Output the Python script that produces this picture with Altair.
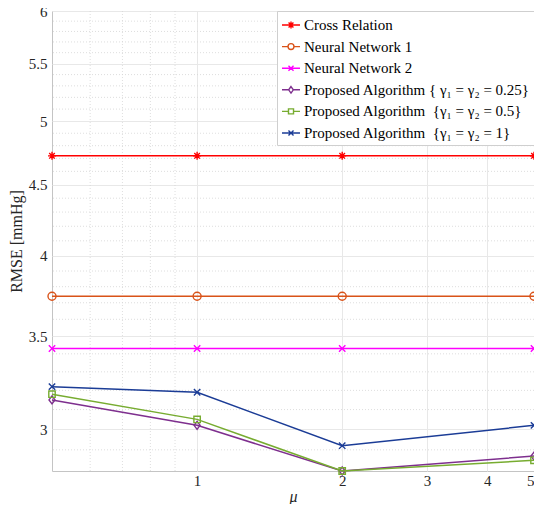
import altair as alt
import pandas as pd

mu = [0.5, 1, 2, 5]
series = [
    "Cross Relation",
    "Neural Network 1",
    "Neural Network 2",
    "Proposed Algorithm { γ₁ = γ₂ = 0.25}",
    "Proposed Algorithm \u00a0{γ₁ = γ₂ = 0.5}",
    "Proposed Algorithm \u00a0{γ₁ = γ₂ = 1}",
]
cross_relation = [4.72, 4.72, 4.72, 4.72]
neural_net_1 = [3.74, 3.74, 3.74, 3.74]
neural_net_2 = [3.43, 3.43, 3.43, 3.43]
proposed_025 = [3.15, 3.02, 2.80, 2.87]
proposed_05 = [3.18, 3.05, 2.80, 2.85]
proposed_1 = [3.22, 3.19, 2.92, 3.02]

y_major = [3, 3.5, 4, 4.5, 5, 5.5, 6]
y_minor = [2.9, 3.1, 3.2, 3.3, 3.4, 3.6, 3.7, 3.8, 3.9, 4.1, 4.2, 4.3, 4.4,
           4.6, 4.7, 4.8, 4.9, 5.1, 5.2, 5.3, 5.4, 5.6, 5.7, 5.8, 5.9]
x_major = [1, 2, 3, 4, 5]
x_minor = [0.6, 0.7, 0.8, 0.9]

colors = ["#FF0000", "#D95319", "#FF00FF", "#7E2F8E", "#77AC30", "#1B3C96"]
marker_paths = [
    "M0,-1L0,1M-1,0L1,0M-0.7,-0.7L0.7,0.7M-0.7,0.7L0.7,-0.7",
    "M1,0A1,1,0,1,1,-1,0A1,1,0,1,1,1,0Z",
    "M-0.8,-0.8L0.8,0.8M-0.8,0.8L0.8,-0.8",
    "M0,-1L0.75,0L0,1L-0.75,0Z",
    "M-0.8,-0.8L0.8,-0.8L0.8,0.8L-0.8,0.8Z",
    "M-0.8,-0.8L0.8,0.8M-0.8,0.8L0.8,-0.8",
]
legend_paths = [
    "M-1,0L1,0M0,-0.38L0,0.38M-0.38,0L0.38,0M-0.27,-0.27L0.27,0.27M-0.27,0.27L0.27,-0.27",
    "M-1,0L-0.33,0M0.33,0L1,0M0.33,0A0.33,0.33,0,1,1,-0.33,0A0.33,0.33,0,1,1,0.33,0Z",
    "M-1,0L1,0M-0.28,-0.28L0.28,0.28M-0.28,0.28L0.28,-0.28",
    "M-1,0L-0.26,0M0.26,0L1,0M0,-0.36L0.26,0L0,0.36L-0.26,0Z",
    "M-1,0L-0.28,0M0.28,0L1,0M-0.28,-0.28L0.28,-0.28L0.28,0.28L-0.28,0.28Z",
    "M-1,0L1,0M-0.28,-0.28L0.28,0.28M-0.28,0.28L0.28,-0.28",
]

values = [cross_relation, neural_net_1, neural_net_2, proposed_025, proposed_05, proposed_1]
rows = []
for si, (name, vals) in enumerate(zip(series, values)):
    for m, v in zip(mu, vals):
        rows.append({"series": name, "order": si, "mu": m, "value": v})
df = pd.DataFrame(rows)

FONT = "Liberation Serif"

xscale = alt.Scale(type="log", domain=[0.5, 5], nice=False)
yscale = alt.Scale(type="log", domain=[2.8, 6], nice=False)

xaxis = alt.Axis(values=x_major, format="~g", title="μ", grid=True, ticks=False,
                 domain=False, labelPadding=2, titlePadding=0, labelFlush=True,
                 labelFont=FONT, titleFont=FONT, labelFontSize=15, titleFontSize=16,
                 titleFontStyle="italic", titleFontWeight="normal",
                 labelColor="#262626", titleColor="#262626")
yaxis = alt.Axis(values=y_major, format="~g", title="RMSE [mmHg]", grid=True, ticks=False,
                 domain=False, labelPadding=5, titlePadding=4, labelFlush=False,
                 labelFont=FONT, titleFont=FONT, labelFontSize=15, titleFontSize=16,
                 titleFontWeight="normal",
                 labelColor="#262626", titleColor="#262626")

X = alt.X("mu:Q", scale=xscale, axis=xaxis)
Y = alt.Y("value:Q", scale=yscale, axis=yaxis)

xminor = alt.Chart(pd.DataFrame({"mu": x_minor})).mark_rule(
    color="#d6d6d6", strokeDash=[1, 2], strokeWidth=0.8
).encode(x=X)
yminor = alt.Chart(pd.DataFrame({"value": y_minor})).mark_rule(
    color="#d6d6d6", strokeDash=[1, 2], strokeWidth=0.8
).encode(y=Y)

series_layers = []
for i, name in enumerate(series):
    sub = alt.Chart(df).transform_filter(alt.datum.series == name)
    series_layers.append(
        sub.mark_line(strokeWidth=1.5, color=colors[i]).encode(x=X, y=Y, order="mu:Q")
    )
    series_layers.append(
        sub.mark_point(filled=False, size=64, strokeWidth=1.4, opacity=1,
                       shape=marker_paths[i], color=colors[i]).encode(x=X, y=Y)
    )

legend_layer = alt.Chart(df).transform_filter("false").mark_point(
    filled=False, strokeWidth=1.4, opacity=1
).encode(
    color=alt.Color("series:N", scale=alt.Scale(domain=series, range=colors),
                    legend=alt.Legend(title=None, orient="top-right", offset=0)),
    shape=alt.Shape("series:N", scale=alt.Scale(domain=series, range=legend_paths),
                    legend=alt.Legend(title=None, orient="top-right", offset=0)),
)

chart = alt.layer(xminor, yminor, *series_layers, legend_layer).properties(
    width=482, height=460,
    autosize=alt.AutoSizeParams(type="none"),
    padding={"left": 44, "top": 3, "right": 0, "bottom": 33},
).configure_view(
    stroke="#c4c4c4", strokeWidth=1
).configure_axis(
    gridColor="#e8e8e8", gridWidth=1,
).configure_legend(
    labelFont=FONT, labelFontSize=15, labelColor="#000000", labelLimit=320,
    symbolSize=324, symbolStrokeWidth=1.4, rowPadding=3.6, padding=4,
    strokeColor="#cfcfcf", fillColor="#ffffff", labelOffset=3,
)

chart.save("out.html", embed_options={"renderer": "svg", "actions": False})
